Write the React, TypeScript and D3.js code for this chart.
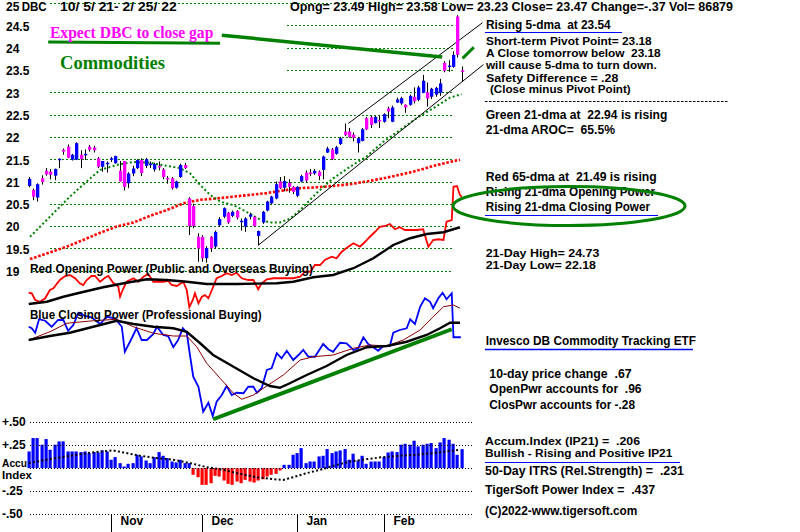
import React from "react";
import * as d3 from "d3";

// ---------------- data ----------------
const opens = [
  20.90,20.81,20.64,21.07,21.24,21.22,21.13,21.49,21.71,21.78,
  21.49,21.49,21.60,21.60,21.78,21.76,21.52,21.33,21.40,21.50,
  21.41,21.24,21.46,20.96,21.18,21.30,21.48,21.35,21.38,21.27,
  21.35,21.27,21.08,21.07,20.86,21.10,21.37,20.62,20.45,19.76,
  19.76,19.28,19.76,19.54,20.02,20.21,20.30,20.23,20.34,20.10,
  19.99,20.21,20.21,19.78,20.08,20.35,20.51,20.62,21.00,20.86,
  20.97,20.88,20.68,21.00,21.20,21.20,21.18,21.22,21.26,21.65,
  21.72,21.62,21.84,22.12,22.12,22.05,21.86,21.91,22.42,22.44,
  22.31,22.38,22.34,22.64,22.34,22.77,22.75,22.72,22.72,22.90,
  22.83,22.99,23.00,22.90,22.95,22.99,23.66,23.58,23.57,24.70,
  23.49];
const highs = [
  21.10,20.84,20.96,21.14,21.30,21.28,21.29,21.52,21.74,21.83,
  21.62,21.88,21.70,21.72,21.82,21.80,21.55,21.46,21.45,21.55,
  21.58,21.46,21.46,21.21,21.35,21.50,21.52,21.53,21.45,21.42,
  21.45,21.30,21.12,21.10,21.02,21.40,21.42,20.65,20.50,19.84,
  19.80,19.55,19.78,19.90,20.20,20.42,20.32,20.35,20.36,20.17,
  20.20,20.30,20.22,19.90,20.34,20.57,20.68,21.00,21.10,21.12,
  21.05,20.90,20.90,21.15,21.25,21.28,21.28,21.25,21.58,21.78,
  21.75,21.80,22.00,22.30,22.20,22.10,22.00,22.20,22.45,22.47,
  22.47,22.48,22.53,22.68,22.70,22.88,22.90,22.73,22.95,23.11,
  23.15,23.39,23.22,23.10,23.12,23.30,23.70,23.72,23.92,24.73,
  23.58];
const lows = [
  20.87,20.58,20.55,20.93,21.13,21.05,21.03,21.30,21.60,21.52,
  21.47,21.48,21.30,21.48,21.67,21.65,21.30,21.22,21.20,21.44,
  21.40,21.00,20.80,20.85,21.12,21.28,21.12,21.30,21.30,21.22,
  21.25,21.05,20.95,20.82,20.84,21.08,21.28,19.80,19.95,19.20,
  19.20,19.18,19.42,19.50,19.98,20.18,20.05,20.20,20.15,19.90,
  19.87,20.15,19.98,19.57,20.05,20.33,20.49,20.60,20.83,20.78,
  20.75,20.72,20.65,20.98,20.98,21.12,21.15,21.03,21.05,21.64,
  21.48,21.60,21.82,22.02,21.98,21.90,21.65,21.90,22.15,22.20,
  22.30,22.20,22.32,22.42,22.33,22.76,22.72,22.54,22.70,22.75,
  22.80,22.98,22.68,22.85,22.90,22.92,23.45,23.46,23.55,23.78,
  23.23];
const closes = [
  21.06,20.66,20.94,20.99,21.16,21.15,21.28,21.51,21.67,21.53,
  21.60,21.86,21.50,21.62,21.71,21.70,21.33,21.46,21.42,21.52,
  21.57,21.00,20.88,21.18,21.29,21.48,21.19,21.50,21.40,21.39,
  21.33,21.10,21.05,20.85,21.00,21.37,21.30,20.00,20.00,19.50,
  19.28,19.51,19.50,19.87,20.16,20.40,20.08,20.32,20.19,20.12,
  20.17,20.26,20.00,19.89,20.32,20.55,20.66,20.94,20.85,21.01,
  20.88,20.77,20.88,21.12,21.02,21.18,21.24,21.12,21.56,21.74,
  21.50,21.77,21.97,22.04,22.00,21.98,21.97,22.17,22.17,22.27,
  22.45,22.37,22.51,22.57,22.66,22.84,22.87,22.66,22.92,22.80,
  23.11,23.26,22.86,23.08,23.10,23.20,23.48,23.60,23.84,23.84,
  23.47];

// moving averages: [day index, price]
const ma21: [number, number][] = [
  [0.3,19.76],[4.9,20.21],[9.5,20.66],[14.2,21.07],[16.5,21.26],[20.3,21.37],[24.2,21.44],
  [28,21.42],[31.9,21.35],[34.9,21.3],[37.3,21.18],[39.6,20.92],[41.9,20.7],[44.2,20.55],
  [47.3,20.47],[50.3,20.32],[53.4,20.15],[55.7,20.08],[58,20.08],[60.4,20.17],[62.7,20.36],
  [66.5,20.74],[70.3,21.07],[74.2,21.33],[78,21.56],[81.9,21.89],[85.7,22.15],[89.6,22.42],
  [93.4,22.64],[97.3,22.88],[100,22.96]];
const ma65: [number, number][] = [
  [0.3,19.26],[4.9,19.41],[8.8,19.54],[12.6,19.69],[16.5,19.85],[20.3,19.99],[24.2,20.08],
  [28,20.23],[31.9,20.36],[35.7,20.51],[39.6,20.59],[43.4,20.62],[47.3,20.66],[51.1,20.70],
  [55,20.74],[58.8,20.8],[62.7,20.85],[66.5,20.87],[70.3,20.9],[74.2,20.94],[78,21.0],
  [81.9,21.07],[85.7,21.15],[89.6,21.24],[93.4,21.35],[99.6,21.49]];

// opening / closing power (arbitrary units): [day index, value]
const openPower: [number, number][] = [
  [0,50.9],[0.7,50.7],[1.5,48],[2.6,47.3],[3.8,48.7],[4.9,52],[5.7,52.7],[7.2,56],[8.4,57.6],
  [9.5,58],[10.7,56.7],[11.8,54.7],[12.6,54],[13.4,56],[14.5,57.6],[15.3,57.6],[16.5,55.3],
  [17.6,56.9],[18.4,57.6],[19.5,54.9],[20.7,53.3],[21.1,49.3],[21.7,52],[22.6,55.3],[24.2,56.7],
  [25.3,55.3],[26.5,57.3],[27.6,58.4],[28.8,55.3],[29.9,55.3],[31.1,55.3],[32.2,55.7],[33,54],
  [34.2,53.6],[35.7,55.3],[36.5,52],[37.1,45.1],[37.9,48],[38.4,50.7],[39.2,46.7],[40,49.3],
  [40.7,50],[41.5,48.7],[42.3,52],[43.4,56.7],[44.6,57.6],[45.7,58.7],[46.9,58],[48,58.9],
  [49.2,56.7],[50.7,56],[51.9,56],[53,52.3],[53.8,54.7],[55,56.3],[56.5,56.7],[58,56.7],
  [59.6,56.7],[61.1,56.7],[62.7,57.3],[63.8,59.3],[65,59.3],[66.1,62],[67.3,62],[68.4,64],
  [70,65.3],[71.1,64.7],[72.3,67.3],[73.8,69.3],[75,70.7],[76.5,69.3],[77.7,71.3],[78.8,73.3],
  [80,75.3],[81.1,77.3],[82.3,77.6],[83.4,78.4],[84.6,76.3],[85.7,77.1],[86.9,76],[88.1,76],
  [89.6,76],[91.1,76.3],[92.3,69.3],[93.4,72],[94.6,72.3],[95.8,72],[96.5,79.3],[97.7,80],
  [98.1,93.3],[98.9,93.6],[99.6,90],[100,89.3]];
const openPowerMA: [number, number][] = [
  [0,46.4],[4.2,47.3],[8,49.3],[11.8,50.9],[17.2,53.1],[22.6,54.9],[27.3,56.3],[31.9,56],
  [36.5,55.3],[41.1,54.4],[48,54.4],[57.3,54.7],[61.1,55.3],[65.7,57.1],[70.3,58],[75,60.7],
  [79.6,64.7],[84.2,70],[88.1,72.7],[91.9,74.4],[95.8,75.1],[99.6,77.1]];
const closePower: [number, number][] = [
  [0,37.3],[0.7,36.7],[1.5,34.9],[2.4,40.3],[3.8,39.7],[5.3,37.3],[6.8,40],[8,40],[9.1,35.7],
  [10.3,38],[11.5,42.9],[13,41.6],[14.5,41.1],[16.5,38.4],[18,41.3],[19.9,40.7],[21.5,37.3],
  [22.2,27.3],[23.8,32.7],[24.9,36.7],[26.1,32],[27.3,32],[28.8,34.4],[29.6,37.3],[31.1,34],
  [32.2,33.6],[33.4,29.1],[34.5,32],[35.6,36.7],[36.5,34.9],[37.3,25.3],[38,17.3],[39.2,13.3],
  [40.3,3.3],[41.5,6.9],[42.5,1.6],[43.4,7.3],[44.6,10],[45.7,13.6],[46.9,10],[48,10.9],
  [49.6,10.7],[50.7,13.3],[51.9,13.3],[52.7,10.9],[53.8,12.7],[55,20],[56.1,20.7],[57.3,26.7],
  [58.4,24.7],[59.6,27.7],[61.1,24],[62.3,26],[63.4,28],[64.6,25.3],[66.1,25.3],[68,30.4],
  [69.2,28.3],[70.3,27.3],[71.9,30.9],[73.4,30.7],[75,28],[76.1,28.7],[77.3,33.1],[78.4,30.4],
  [79.6,29.1],[80.7,27.7],[81.9,29.6],[83.4,29.6],[84.2,34.9],[85.7,36],[87.3,36.7],[88.1,40.3],
  [89.2,38.4],[90.4,45.3],[91.5,48.7],[92.7,47.3],[93.4,44.7],[94.6,48.7],[95.6,50.9],[96.5,48.3],
  [97.7,50.7],[98.1,33.1],[99.8,33.1]];
const closePowerMAfast: [number, number][] = [
  [0,32],[4.9,35.3],[8.8,38.7],[14.9,39.7],[20.3,40.3],[24.2,37.3],[28.8,34.7],[33.4,33.6],
  [36.5,33.6],[38.8,29.3],[41.1,22.7],[44.2,16.7],[47.3,10.7],[49.2,8.3],[51.9,10],[55,13.6],
  [58.8,18],[62.7,24],[65.7,25.3],[70.3,26],[75,28.7],[78.8,30],[82.7,29.6],[86.5,32],[90.4,36],
  [93.4,41.3],[95.8,45.3],[98.1,46],[99.6,44.7]];
const closePowerMAslow: [number, number][] = [
  [0,32],[4.9,33.6],[9.5,34.9],[14.9,37.3],[20.3,39.7],[24.2,38.4],[28.8,37.3],[33.4,36.7],
  [36.5,35.3],[39.6,30.7],[42.6,26],[47.3,21.3],[51.9,16.7],[55.7,13.6],[58,12.9],[60.3,14.7],
  [64.2,18],[68.8,21.6],[73.4,26],[78.1,29.1],[82.7,29.6],[87.3,31.3],[91.9,34],[95,36.7],
  [97.3,38.9],[99.6,38.9]];

// accumulation index IP21, one value per day
const ip21 = [
  0.181,0.326,0.326,0.254,0.315,0.199,0.254,0.290,0.290,0.181,
  0.181,0.181,0.174,0.181,0.163,0.174,0.170,0.192,0.181,0.091,
  0.120,0.054,0.018,0.047,0.054,0.145,0.127,0.083,0.054,0.120,
  0.174,0.134,0.109,0.072,0.062,0.091,0.054,0.054,
  -0.072,-0.098,-0.181,-0.181,-0.163,-0.083,-0.091,-0.134,-0.170,-0.181,
  -0.145,-0.163,-0.127,-0.145,-0.156,-0.134,-0.120,-0.091,-0.072,-0.062,-0.025,
  0.036,0.036,0.145,0.163,0.217,0.054,0.072,0.072,0.127,0.134,
  0.207,0.163,0.181,0.192,0.207,0.091,0.156,0.083,0.134,0.047,
  0.072,0.072,0.072,0.120,0.170,0.181,0.174,0.254,0.264,0.254,
  0.297,0.236,0.254,0.264,0.272,0.217,0.279,0.326,0.308,0.264,
  0.145,0.206];
const ip21MA: [number, number][] = [
  [0,0.054],[4.9,0.098],[8.8,0.127],[12.6,0.156],[16.5,0.181],[19.5,0.192],[22.6,0.163],
  [25.7,0.134],[29.6,0.109],[33.4,0.091],[37.3,0.054],[41.1,0.011],[44.9,-0.018],[48.8,-0.062],
  [52.6,-0.098],[56.5,-0.12],[58.8,-0.127],[61.1,-0.098],[64.2,-0.054],[67.3,-0.018],[70.3,0.025],
  [74.2,0.072],[78.1,0.098],[81.9,0.12],[85.7,0.134],[89.6,0.145],[93.4,0.163],[96.5,0.181],
  [99.6,0.2]];

// trend / channel lines: [day index, price]
const channelLower: [number, number][] = [[53, 19.57], [105, 23.62]];
const channelUpper: [number, number][] = [[73.8, 22.3], [104.8, 24.56]];
const gapLineA: [number, number][] = [[4.5, 24.13], [44.2, 24.1]];
const gapLineB: [number, number][] = [[44.6, 24.28], [95.5, 23.79]];
const gapLineC: [number, number][] = [[100.2, 23.76], [102.8, 24.01]];
const cpTrend: [number, number][] = [[42.6, 0.3], [97.7, 36.3]];

const priceTicks = [25, 24.5, 24, 23.5, 23, 22.5, 22, 21.5, 21, 20.5, 20, 19.5, 19];
const priceTickLabels = ["25", "24.5", "24", "23.5", "23", "22.5", "22", "21.5", "21", "20.5", "20", "19.5", "19"];
const ipTicks = [0.5, 0.25, 0, -0.25, -0.5];
const ipTickLabels = ["+.50", "+.25", "", "-.25", "-.50"];
const months = ["Nov", "Dec", "Jan", "Feb"];
const monthStart = [19, 40, 62, 82];

// ---------------- scales ----------------
const x = d3.scaleLinear().domain([0, 100]).range([28.7, 461.7]);
const y = d3.scaleLinear().domain([19, 25]).range([270.7, 3.1]);
const py = d3.scaleLinear().domain([0, 100]).range([420, 170]);
const iy = d3.scaleLinear().domain([-0.5, 0.5]).range([514.3, 422]);

const SANS = "'Liberation Sans', Arial, sans-serif";
const SERIF = "'Liberation Serif', 'Times New Roman', serif";

const notes: { t: string; x: number; y: number; w: number; s: number }[] = [
  { t: "Rising 5-dma  at 23.54", x: 486, y: 29.3, w: 124.7, s: 12.5 },
  { t: "Short-term Pivot Point= 23.18", x: 486, y: 45, w: 165.7, s: 11.5 },
  { t: "A Close tomorrow below  23.18", x: 486, y: 57, w: 174.7, s: 11.5 },
  { t: "will cause 5-dma to turn down.", x: 486, y: 69, w: 170.7, s: 11.5 },
  { t: "Safety Difference = .28", x: 486, y: 81.5, w: 132.3, s: 11.5 },
  { t: "(Close minus Pivot Point)", x: 490, y: 92.8, w: 140.7, s: 11.5 },
  { t: "Green 21-dma at  22.94 is rising", x: 485.7, y: 119.3, w: 181.6, s: 12.5 },
  { t: "21-dma AROC=  65.5%", x: 485.7, y: 134, w: 129.3, s: 12.5 },
  { t: "Red 65-dma at  21.49 is rising", x: 485.7, y: 180.7, w: 171, s: 12.5 },
  { t: "Rising 21-dma Opening Power", x: 485.7, y: 195.5, w: 169.3, s: 12 },
  { t: "Rising 21-dma Closing Power", x: 485.7, y: 210.5, w: 164.3, s: 12 },
  { t: "21-Day High= 24.73", x: 485.7, y: 256.7, w: 113.7, s: 11.5 },
  { t: "21-Day Low= 22.18", x: 485.7, y: 269.3, w: 110.3, s: 11.5 },
  { t: "Invesco DB Commodity Tracking ETF", x: 485.7, y: 345, w: 210.3, s: 12.5 },
  { t: "10-day price change  .67", x: 489.3, y: 378.3, w: 142.3, s: 12.5 },
  { t: "OpenPwr accounts for  .96", x: 489.3, y: 393, w: 152.3, s: 12.5 },
  { t: "ClosPwr accounts for -.28", x: 489.3, y: 408.7, w: 145.7, s: 12.5 },
  { t: "Accum.Index (IP21) =  .206", x: 485, y: 445, w: 155, s: 11.5 },
  { t: "Bullish - Rising and Positive IP21", x: 485, y: 457.3, w: 187.3, s: 11.5 },
  { t: "50-Day ITRS (Rel.Strength) =  .231", x: 485, y: 475.3, w: 199, s: 12.5 },
  { t: "TigerSoft Power Index =  .437", x: 485, y: 494, w: 170, s: 12.5 },
  { t: "(C)2022-www.tigersoft.com", x: 485, y: 515.3, w: 152.3, s: 12.5 },
];

export default function App() {
  const line = d3.line<[number, number]>().x((d) => x(d[0])).y((d) => y(d[1]));
  const pline = d3.line<[number, number]>().x((d) => x(d[0])).y((d) => py(d[1]));
  const iline = d3.line<[number, number]>().x((d) => x(d[0])).y((d) => iy(d[1]));
  const gridStart = (p: number) => (p >= 23.5 && p <= 24.5 ? 287 : p === 19 ? 33 : 50);

  return (
    <svg width={800} height={532} style={{ position: "absolute", left: 0, top: 0 }} fontFamily={SANS}>
      <rect x={0} y={0} width={800} height={532} fill="#ffffff" />

      {/* price gridlines */}
      {priceTicks.map((p) => (
        <line key={"g" + p} x1={gridStart(p)} x2={453} y1={Math.round(y(p)) + 0.5} y2={Math.round(y(p)) + 0.5}
          stroke="#008000" strokeWidth={1} strokeDasharray="2 2" />
      ))}
      {priceTicks.map((p, i) => (
        <text key={"pl" + p} x={6} y={p === 25 ? 10.7 : y(p) + 5.3} fontSize={12} fontWeight="bold" fill="#000">
          {priceTickLabels[i]}
        </text>
      ))}

      {/* header */}
      <text x={21.7} y={10.7} fontSize={12} fontWeight="bold" textLength={25} lengthAdjust="spacingAndGlyphs">DBC</text>
      <text x={60} y={10.7} fontSize={12} fontWeight="bold" textLength={116.7} lengthAdjust="spacingAndGlyphs" xmlSpace="preserve">10/ 5/ 21- 2/ 25/ 22</text>
      <text x={290} y={10.7} fontSize={12.5} fontWeight="bold" textLength={443} lengthAdjust="spacingAndGlyphs" xmlSpace="preserve">Opng= 23.49 High= 23.58 Low= 23.23 Close= 23.47 Change=-.37 Vol= 86879</text>

      {/* moving averages */}
      <path d={line(ma65) || ""} fill="none" stroke="#ff0000" strokeWidth={2.6} strokeDasharray="2.6 1.7" />
      <path d={line(ma21) || ""} fill="none" stroke="#008000" strokeWidth={2} strokeDasharray="2 2.4" />

      {/* channel lines */}
      <path d={line(channelLower) || ""} fill="none" stroke="#000" strokeWidth={1} />
      <path d={line(channelUpper) || ""} fill="none" stroke="#000" strokeWidth={1} />

      {/* candles */}
      {closes.map((c, i) => {
        const o = opens[i];
        const up = c >= o;
        const top = y(Math.max(o, c));
        const bot = y(Math.min(o, c));
        const cx = Math.round(x(i)) + 0.5;
        return (
          <g key={"c" + i}>
            <line x1={cx} x2={cx} y1={y(highs[i])} y2={y(lows[i])} stroke="#000" strokeWidth={1} />
            <rect x={cx - 1.5} width={3.3} y={top} height={Math.max(1.5, bot - top)} fill={up ? "#0000ff" : "#ff00ff"} />
          </g>
        );
      })}

      {/* gap annotation lines */}
      <path d={line(gapLineA) || ""} stroke="#008000" strokeWidth={3} fill="none" />
      <path d={line(gapLineB) || ""} stroke="#008000" strokeWidth={3.5} fill="none" />
      <path d={line(gapLineC) || ""} stroke="#008000" strokeWidth={3} fill="none" />
      <text x={50} y={37.5} fontFamily={SERIF} fontSize={16} fontWeight="bold" fill="#ff00ff" textLength={163.3} lengthAdjust="spacingAndGlyphs">Expect DBC to close gap</text>
      <text x={60} y={69.3} fontFamily={SERIF} fontSize={19} fontWeight="bold" fill="#008000" textLength={105} lengthAdjust="spacingAndGlyphs">Commodities</text>

      {/* opening power */}
      <path d={pline(openPower) || ""} fill="none" stroke="#ff0000" strokeWidth={1.8} />
      <path d={pline(openPowerMA) || ""} fill="none" stroke="#000" strokeWidth={2.4} />
      <text x={30} y={272.5} fontSize={12.5} fontWeight="bold" textLength={283} lengthAdjust="spacingAndGlyphs">Red Opening Power (Public and Overseas Buying)</text>

      {/* closing power */}
      <path d={pline(closePower) || ""} fill="none" stroke="#0000ff" strokeWidth={1.8} />
      <path d={pline(closePowerMAfast) || ""} fill="none" stroke="#8b0000" strokeWidth={1} />
      <path d={pline(closePowerMAslow) || ""} fill="none" stroke="#000" strokeWidth={2.4} />
      <path d={pline(cpTrend) || ""} fill="none" stroke="#008000" strokeWidth={4} />
      <text x={30} y={319} fontSize={12.5} fontWeight="bold" textLength={231.7} lengthAdjust="spacingAndGlyphs">Blue Closing Power (Professional Buying)</text>

      {/* accumulation index */}
      {ip21.map((v, i) => {
        const cx = Math.round(x(i));
        const y0 = iy(0);
        const y1 = iy(v);
        return <rect key={"a" + i} x={cx - 1.5} width={3.2} y={Math.min(y0, y1)} height={Math.abs(y1 - y0)} fill={v >= 0 ? "#0000ff" : "#ff0000"} />;
      })}
      {ipTicks.map((t) => (
        <line key={"ig" + t} x1={30} x2={472} y1={Math.round(iy(t)) + 0.5} y2={Math.round(iy(t)) + 0.5} stroke="#000" strokeWidth={1} strokeDasharray="1 2" />
      ))}
      <path d={iline(ip21MA) || ""} fill="none" stroke="#000" strokeWidth={2} strokeDasharray="2 2.3" />
      {ipTicks.map((t, i) => (
        ipTickLabels[i] ? <text key={"il" + t} x={2} y={iy(t) + 4} fontSize={12} fontWeight="bold">{ipTickLabels[i]}</text> : null
      ))}
      <text x={2} y={466.7} fontSize={11.5} fontWeight="bold" textLength={25} lengthAdjust="spacingAndGlyphs">Accu</text>
      <text x={2} y={479.3} fontSize={11.5} fontWeight="bold" textLength={30} lengthAdjust="spacingAndGlyphs">Index</text>

      {/* months */}
      {months.map((m, i) => {
        const mx = Math.round(x(monthStart[i])) + 0.5;
        return (
          <g key={m}>
            <line x1={mx} x2={mx} y1={515} y2={532} stroke="#000" strokeWidth={1} />
            <text x={mx + 9} y={525} fontSize={12} fontWeight="bold">{m}</text>
          </g>
        );
      })}

      {/* right-hand notes */}
      {notes.map((n) => (
        <text key={n.t} x={n.x} y={n.y} fontSize={n.s} fontWeight="bold" fill="#000" textLength={n.w} lengthAdjust="spacingAndGlyphs" xmlSpace="preserve">{n.t}</text>
      ))}
      <line x1={485} x2={622} y1={32.5} y2={32.5} stroke="#0000ff" strokeWidth={1.2} />
      <line x1={485} x2={728} y1={101.5} y2={101.5} stroke="#000" strokeWidth={1} strokeDasharray="2.5 1.5" />
      <line x1={485} x2={658} y1={215.5} y2={215.5} stroke="#0000ff" strokeWidth={1.2} />
      <line x1={485} x2={693} y1={349.5} y2={349.5} stroke="#0000ff" strokeWidth={1.5} />
      <line x1={485} x2={680} y1={462.5} y2={462.5} stroke="#0000ff" strokeWidth={1.2} />
      <ellipse cx={569} cy={206} rx={116} ry={19.5} fill="none" stroke="#008000" strokeWidth={3} />
    </svg>
  );
}
